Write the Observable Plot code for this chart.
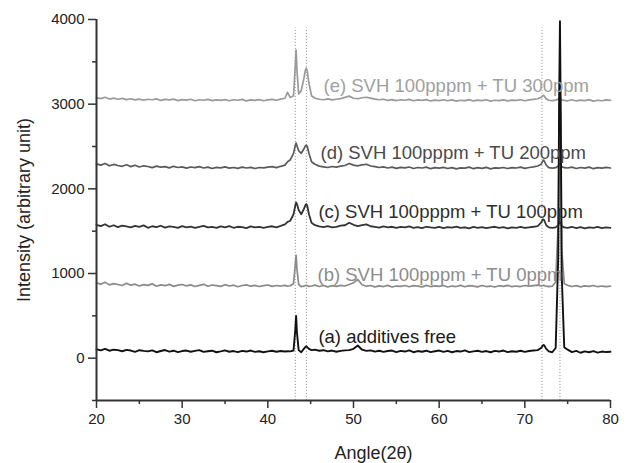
<!DOCTYPE html>
<html>
<head>
<meta charset="utf-8">
<script src="https://cdn.jsdelivr.net/npm/d3@7"></script>
<script src="https://cdn.jsdelivr.net/npm/@observablehq/plot@0.6"></script>
<style>
  html, body { margin: 0; padding: 0; background: #fff; }
  #chart svg { display: block; }
</style>
</head>
<body>
<div id="chart"></div>
<script>
// Diffraction angle grid (2θ, degrees)
const angles = [
  20,20.5,21,21.5,22,22.5,23,23.5,24,24.5,25,25.5,26,26.5,27,27.5,28,28.5,29,29.5,30,30.5,31,31.5,32,32.5,33,33.5,34,34.5,35,35.5,36,36.5,37,37.5,38,38.5,39,39.5,40,40.5,41,41.5,42,
  42.3,42.6,43.0,43.2,43.3,43.4,43.6,43.9,44.2,44.4,44.5,44.6,44.8,45.1,
  45.5,46,46.5,47,47.5,48,48.5,49,49.5,50,50.5,51,51.5,52,52.5,53,53.5,54,54.5,55,55.5,56,56.5,57,57.5,58,58.5,59,59.5,60,60.5,61,61.5,62,62.5,63,63.5,64,64.5,65,65.5,66,66.5,67,67.5,68,68.5,69,69.5,70,70.5,71,71.5,
  71.9,72.1,72.2,72.3,72.5,72.8,73.2,73.6,73.9,74.0,74.1,74.2,74.3,74.6,
  75,75.5,76,76.5,77,77.5,78,78.5,79,79.5,80
];

// (a) additives free
const seriesA = [
  105,92,110,88,100,95,82,98,90,75,94,86,80,92,70,85,96,78,88,72,84,90,76,86,95,74,82,88,70,80,92,76,84,72,86,78,90,74,82,70,80,88,76,84,78,
  82,80,90,330,500,300,95,70,110,135,140,130,110,95,
  100,88,94,80,90,76,86,92,95,110,150,100,86,92,78,88,74,84,90,72,86,78,92,70,84,76,88,72,82,90,74,86,70,84,78,92,72,80,88,74,84,70,86,78,90,72,82,76,88,74,84,90,95,
  120,150,155,145,110,80,70,120,1200,3000,3980,2800,1000,130,
  100,72,86,64,80,70,84,66,78,72,76
];

// (b) SVH 100pppm + TU 0ppm
const seriesB = [
  890,872,898,866,880,870,858,884,862,874,852,868,860,878,850,866,856,872,848,862,870,854,866,846,860,872,850,864,856,848,868,852,862,844,858,866,850,860,846,856,864,848,858,852,860,
  850,855,880,1100,1215,1050,870,845,850,858,860,855,848,852,
  862,846,858,842,856,848,860,852,870,890,930,868,850,858,842,854,846,860,840,852,848,858,844,856,850,842,860,846,854,848,858,840,852,846,860,844,856,850,842,858,846,852,840,856,848,860,844,852,846,858,850,856,862,
  852,858,862,856,850,845,850,900,1600,2800,3400,2600,1300,880,
  860,846,856,842,854,848,858,844,852,846,850
];

// (c) SVH 100pppm + TU 100ppm
const seriesC = [
  1575,1560,1582,1552,1570,1548,1566,1556,1544,1562,1550,1568,1540,1558,1548,1564,1542,1556,1550,1538,1560,1546,1554,1540,1552,1562,1544,1550,1538,1556,1546,1560,1540,1552,1548,1536,1556,1544,1552,1540,1550,1558,1546,1562,1580,
  1610,1620,1700,1800,1840,1820,1750,1700,1760,1810,1820,1800,1700,1600,
  1570,1556,1548,1560,1544,1552,1566,1570,1600,1575,1560,1572,1580,1558,1550,1542,1556,1546,1552,1538,1550,1544,1556,1540,1548,1536,1552,1544,1540,1550,1536,1548,1542,1554,1538,1546,1534,1550,1540,1548,1536,1546,1552,1538,1548,1534,1544,1540,1550,1538,1546,1552,1560,
  1600,1640,1640,1620,1570,1545,1540,1545,1570,1600,1610,1590,1560,1545,
  1540,1552,1536,1548,1534,1546,1540,1550,1536,1544,1540
];

// (d) SVH 100pppm + TU 200ppm
const seriesD = [
  2295,2280,2300,2272,2288,2276,2266,2284,2262,2278,2258,2272,2264,2250,2268,2256,2262,2248,2266,2252,2260,2244,2258,2250,2262,2246,2256,2240,2254,2248,2260,2244,2252,2242,2256,2246,2254,2240,2252,2248,2256,2262,2250,2266,2280,
  2320,2340,2420,2510,2540,2510,2450,2420,2470,2510,2515,2500,2420,2320,
  2290,2268,2260,2252,2264,2256,2268,2276,2300,2280,2272,2284,2290,2270,2262,2252,2260,2246,2256,2242,2254,2248,2258,2240,2252,2246,2256,2238,2250,2244,2254,2240,2250,2236,2248,2244,2256,2238,2250,2242,2254,2236,2248,2244,2252,2240,2250,2246,2256,2242,2252,2260,2270,
  2290,2330,2340,2320,2280,2250,2244,2250,2270,2290,2300,2280,2262,2250,
  2246,2256,2240,2252,2244,2256,2238,2250,2244,2254,2246
];

// (e) SVH 100pppm + TU 300ppm
const seriesE = [
  3078,3066,3082,3060,3072,3058,3068,3054,3064,3050,3060,3046,3058,3052,3062,3044,3056,3050,3060,3042,3054,3048,3058,3040,3052,3046,3056,3042,3050,3044,3054,3040,3052,3046,3056,3038,3050,3044,3054,3040,3050,3056,3046,3060,3070,
  3140,3080,3100,3450,3640,3400,3120,3160,3300,3410,3425,3390,3250,3100,
  3070,3058,3052,3062,3050,3058,3066,3080,3095,3070,3064,3076,3082,3072,3060,3052,3058,3044,3054,3042,3052,3046,3056,3040,3050,3044,3054,3038,3048,3042,3052,3040,3050,3036,3046,3042,3054,3038,3048,3042,3052,3036,3046,3042,3050,3038,3048,3044,3052,3040,3050,3056,3064,
  3080,3100,3105,3090,3060,3046,3042,3048,3060,3070,3075,3060,3050,3044,
  3040,3052,3038,3048,3042,3054,3036,3046,3040,3050,3044
];

// Series labels and their anchor positions (angle, intensity)
const labelTexts = [
  "(e) SVH 100pppm + TU 300ppm",
  "(d) SVH 100pppm + TU 200ppm",
  "(c) SVH 100pppm + TU 100ppm",
  "(b) SVH 100pppm + TU 0ppm",
  "(a) additives free"
];
const labelAngles = [46.5, 46.15, 45.9, 45.8, 45.9];
const labelIntensities = [3211, 2420, 1724, 980, 248];
const labelColors = ["#a0a0a0", "#4a4a4a", "#2e2e2e", "#8c8c8c", "#1a1a1a"];

// Reference peak positions (dotted guide lines)
const guideAngles = [43.2, 44.5, 72.0, 74.1];

// Axis ticks
const xTicks = [20, 30, 40, 50, 60, 70, 80];
const xMinorTicks = [25, 35, 45, 55, 65, 75];
const yTicks = [0, 1000, 2000, 3000, 4000];
const yMinorTicks = [-500, 500, 1500, 2500, 3500];

const seriesList = [
  {y: seriesE, color: "#9a9a9a", w: 1.7},
  {y: seriesD, color: "#5a5a5a", w: 1.7},
  {y: seriesC, color: "#333333", w: 1.8},
  {y: seriesB, color: "#8a8a8a", w: 1.7},
  {y: seriesA, color: "#111111", w: 1.9}
];

const labels = labelTexts.map((t, i) => ({text: t, x: labelAngles[i], y: labelIntensities[i], c: labelColors[i]}));

const chart = Plot.plot({
  width: 629,
  height: 463,
  marginLeft: 96,
  marginRight: 19,
  marginTop: 19,
  marginBottom: 63,
  style: {fontFamily: "'Liberation Sans', Arial, sans-serif", fontSize: "15px", color: "#222", background: "#fff"},
  x: {domain: [20, 80], label: null},
  y: {domain: [-500, 4000], label: null},
  marks: [
    Plot.ruleX(guideAngles, {x: d => d, y1: -500, y2: 3900, stroke: "#9a9a9a", strokeWidth: 1, strokeDasharray: "1.2,1.8"}),
    ...seriesList.map(s => Plot.line(angles, {x: angles, y: s.y, stroke: s.color, strokeWidth: s.w, strokeLinejoin: "round"})),
    Plot.text(labels, {x: "x", y: "y", text: "text", fill: "c", textAnchor: "start", fontSize: 18.5}),
    Plot.axisY(yTicks, {tickSize: 8, tickPadding: 4, fontSize: 15, tickFormat: d => String(d), stroke: "#333", strokeWidth: 1.5, label: null}),
    Plot.axisY(yMinorTicks, {tickSize: 4, tickFormat: () => "", stroke: "#333", strokeWidth: 1.5, label: null}),
    Plot.axisX(xTicks, {tickSize: 8, tickPadding: 5, fontSize: 15, tickFormat: d => String(d), stroke: "#333", strokeWidth: 1.5, label: null}),
    Plot.axisX(xMinorTicks, {tickSize: 4, tickFormat: () => "", stroke: "#333", strokeWidth: 1.5, label: null}),
    Plot.ruleX([20], {stroke: "#333", strokeWidth: 2}),
    Plot.ruleY([-500], {stroke: "#333", strokeWidth: 2}),
    Plot.text(["Intensity (arbitrary unit)"], {frameAnchor: "left", dx: -72, rotate: -90, textAnchor: "middle", lineAnchor: "middle", fontSize: 18, fill: "#222"}),
    Plot.text(["Angle(2θ)"], {frameAnchor: "bottom", dx: 20, dy: 53, textAnchor: "middle", lineAnchor: "middle", fontSize: 18, fill: "#222"})
  ]
});

document.getElementById("chart").appendChild(chart);
</script>
</body>
</html>
